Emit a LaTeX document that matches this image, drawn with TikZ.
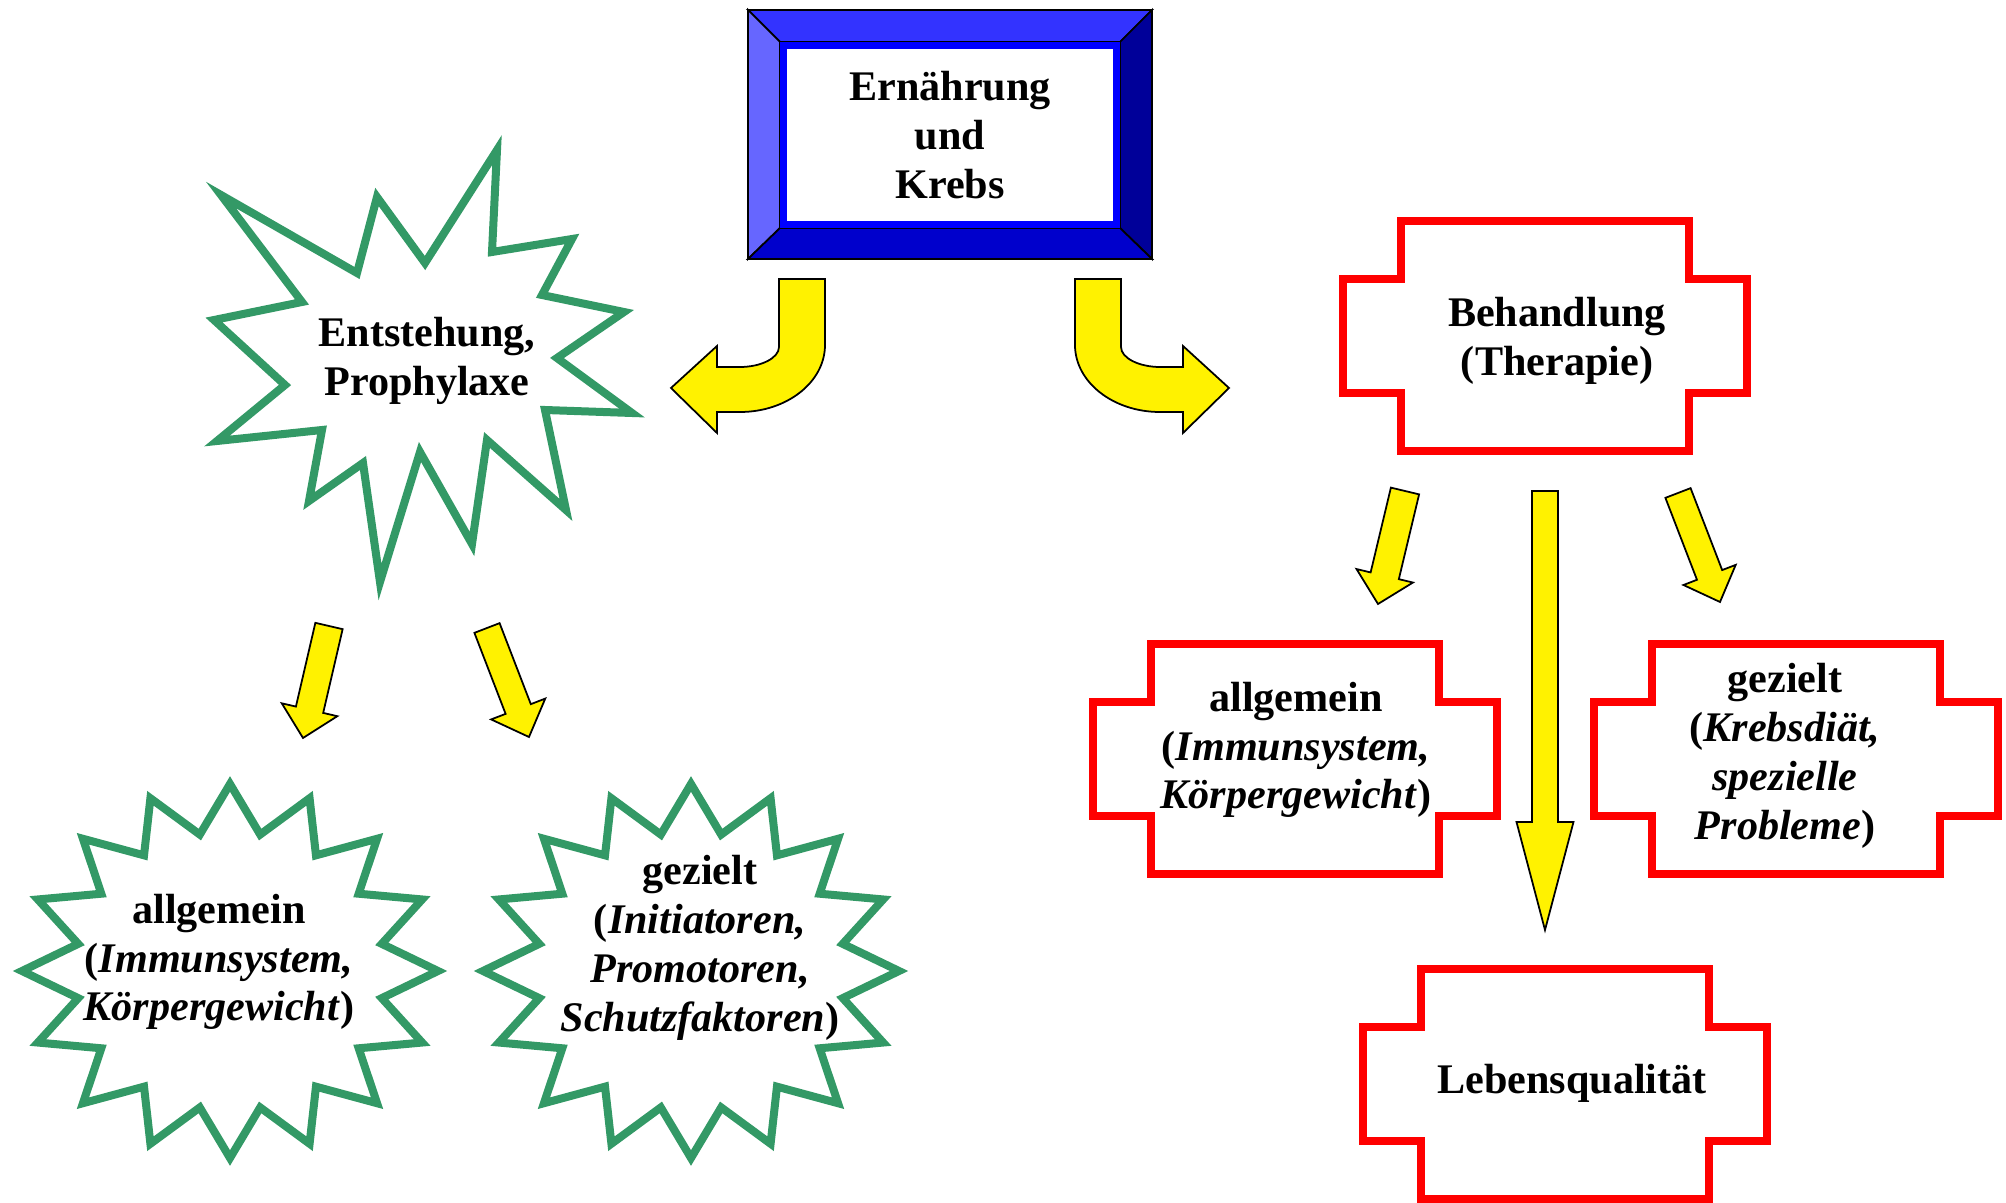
\documentclass[tikz,border=0pt]{standalone}
\usepackage{fontspec}
\setmainfont{Liberation Serif}
\usetikzlibrary{calc}
\definecolor{sealgreen}{HTML}{339966}
\definecolor{bevtop}{HTML}{3333FF}
\definecolor{bevleft}{HTML}{6666FF}
\definecolor{bevright}{HTML}{000099}
\definecolor{bevbottom}{HTML}{0000CC}
\tikzset{seal line/.style={draw=sealgreen,line width=0.8mm,fill=white,line join=miter},
         notch line/.style={draw=red,line width=0.8mm,fill=white},
         block arrow/.style={draw=black,fill=yellow,line width=0.5pt,line join=miter},
         bevel/.style={draw=black,line width=0.5pt},
         box text/.style={align=center,inner sep=0pt,font=\fontsize{12}{13.9}\selectfont\bfseries},
         topic box/.style={draw=blue,line width=0.7mm,fill=white,minimum width=33.3mm,minimum height=17.95mm},
         notch box/.pic={\draw[notch line] (-144,-115) -- (144,-115) -- (144,-57) -- (202,-57) -- (202,57) -- (144,57) -- (144,115) -- (-144,115) -- (-144,57) -- (-202,57) -- (-202,-57) -- (-144,-57) -- cycle;}
}
% tail, tip, half shaft, half head, head length
\newcommand{\blockarrow}[5]{%
  \path ($(#2)!#5!(#1)$) coordinate (hb);
  \draw[block arrow] ($(#1)!#3!90:(#2)$) -- ($(hb)!#3!-90:(#1)$) -- ($(hb)!#4!-90:(#1)$) -- (#2)
    -- ($(hb)!#4!90:(#1)$) -- ($(hb)!#3!90:(#1)$) -- ($(#1)!#3!-90:(#2)$) -- cycle;
}

\begin{document}
\begin{tikzpicture}[x=0.1mm,y=-0.1mm]
\useasboundingbox (0,0) rectangle (2006,1203);

% explosion
\draw[seal line] (221,195) -- (357,273) -- (377,197) -- (425,263) -- (497,150) -- (492,252)
  -- (572,239) -- (542,295) -- (624,312) -- (557,358) -- (632,413) -- (545,410) -- (566,510)
  -- (487,440) -- (472,544) -- (420,452) -- (380,582) -- (363,463) -- (309,501) -- (322,430)
  -- (217,441) -- (285,385) -- (214,320) -- (302,302) -- cycle;

% seals
\foreach \cx/\cy in {230/971, 691/971}{
  \begin{scope}[shift={(\cx,\cy)},xscale=208,yscale=187]
    \draw[seal line] (90:1) \foreach \i [evaluate=\i as \rad using {1-0.256*mod(\i,2)}] in {1,...,31}{ -- ({90+11.25*\i}:\rad) } -- cycle;
  \end{scope}
}

% notch boxes
\pic at (1545,336) {notch box};
\pic at (1295,759) {notch box};
\pic at (1796,759) {notch box};
\pic at (1565,1084) {notch box};

% bevel frame
\filldraw[bevel,fill=bevtop] (748,10) -- (1152,10) -- (1120,42) -- (780,42) -- cycle;
\filldraw[bevel,fill=bevleft] (748,10) -- (780,42) -- (780,228) -- (748,259) -- cycle;
\filldraw[bevel,fill=bevright] (1152,10) -- (1152,259) -- (1120,228) -- (1120,42) -- cycle;
\filldraw[bevel,fill=bevbottom] (748,259) -- (780,228) -- (1120,228) -- (1152,259) -- cycle;
\node[topic box,box text] (topic) at (950,135) {Ern\"ahrung\\und\\Krebs};

% bent arrows
\draw[block arrow] (779,279) -- (825,279) -- (825,345) .. controls (825,382) and (787,412) .. (740,412)
  -- (717,412) -- (717,433) -- (671,388) -- (717,346) -- (717,367) -- (740,367)
  .. controls (761,367) and (779,358) .. (779,347) -- cycle;
\draw[block arrow] (1121,279) -- (1075,279) -- (1075,345) .. controls (1075,382) and (1113,412) .. (1160,412)
  -- (1183,412) -- (1183,433) -- (1229,388) -- (1183,346) -- (1183,367) -- (1160,367)
  .. controls (1139,367) and (1121,358) .. (1121,347) -- cycle;

% straight arrows
\coordinate (a1) at (329,626); \coordinate (a1e) at (303,738);
\coordinate (a2) at (487,628); \coordinate (a2e) at (529,737);
\coordinate (b1) at (1405,491); \coordinate (b1e) at (1378,604);
\coordinate (b2) at (1678,493); \coordinate (b2e) at (1720,602);
\coordinate (b3) at (1545,491); \coordinate (b3e) at (1545,930);
\blockarrow{a1}{a1e}{1.4mm}{2.85mm}{2.9mm}
\blockarrow{a2}{a2e}{1.35mm}{2.9mm}{3mm}
\blockarrow{b1}{b1e}{1.45mm}{2.9mm}{2.9mm}
\blockarrow{b2}{b2e}{1.35mm}{2.8mm}{2.9mm}
\blockarrow{b3}{b3e}{1.3mm}{2.85mm}{10.8mm}

% texts
\node[box text] (ent) at (427,361) {Entstehung,\\Prophylaxe};
\node[box text] (allg) at (219,962) {allgemein\\(\textit{Immunsystem,}\\\textit{K\"orpergewicht})};
\node[box text] (gez) at (700,948) {gezielt\\(\textit{Initiatoren,}\\\textit{Promotoren,}\\\textit{Schutzfaktoren})};
\node[box text] (beh) at (1557,341) {Behandlung\\(Therapie)};
\node[box text] (ballg) at (1296,750) {allgemein\\(\textit{Immunsystem,}\\\textit{K\"orpergewicht})};
\node[box text] (bgez) at (1785,756) {gezielt\\(\textit{Krebsdi\"at,}\\\textit{spezielle}\\\textit{Probleme})};
\node[box text] (leben) at (1572,1083) {Lebensqualit\"at};
\end{tikzpicture}
\end{document}
